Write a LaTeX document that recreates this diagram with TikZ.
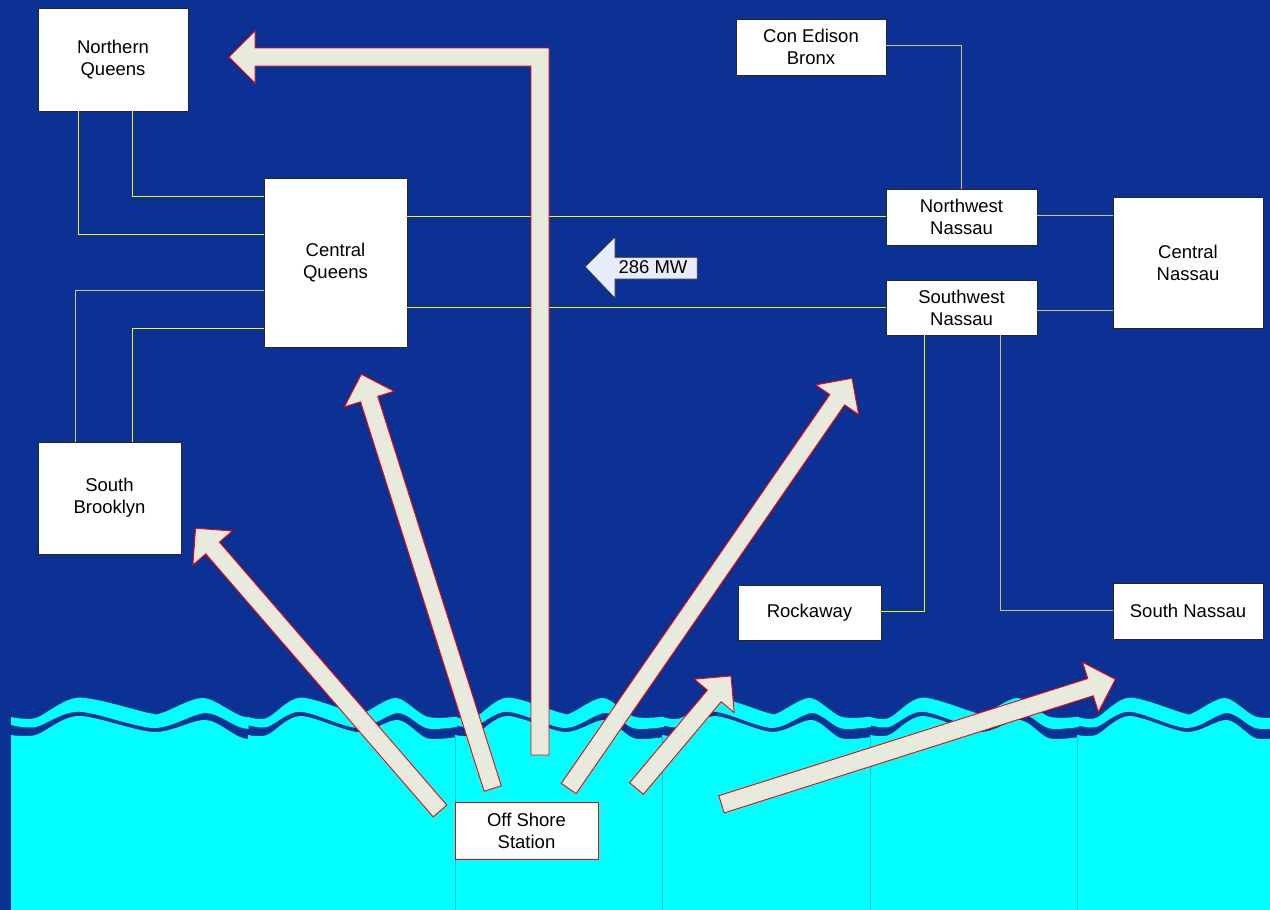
\documentclass[tikz,border=0pt]{standalone}
\usepackage{fontspec}
\setmainfont{Liberation Sans}
\usetikzlibrary{calc}
\definecolor{bg}{RGB}{12,49,148}
\definecolor{sea}{RGB}{0,255,255}
\definecolor{seamc}{RGB}{20,190,215}
\definecolor{arrfill}{RGB}{233,234,222}
\definecolor{lnY}{RGB}{245,245,0}
\definecolor{lnP}{RGB}{200,200,110}
\definecolor{mwfill}{RGB}{232,236,248}
\tikzset{
  box/.style={draw=black!85, fill=white, line width=0.8pt, inner sep=0pt, align=center,
    font=\fontsize{18.5}{22}\selectfont, text=black},
  bigarrow/.style={fill=arrfill, draw=red, line width=0.9pt, line join=miter},
  lineY/.style={draw=lnY, line width=1.5pt},
  lineP/.style={draw=lnP, line width=1.4pt},
  mwarrow/.style={fill=mwfill, draw=black!80, line width=0.8pt},
}
\newcommand\blockarr[2]{%
  \coordinate (bac) at ($(#2)!26pt!(#1)$);
  \filldraw[bigarrow] ($(#1)!9pt!90:(#2)$) -- ($(bac)!9pt!90:(#2)$) -- ($(bac)!26pt!90:(#2)$) -- (#2)
    -- ($(bac)!26pt!-90:(#2)$) -- ($(bac)!9pt!-90:(#2)$) -- ($(#1)!9pt!-90:(#2)$) -- cycle;}
\newcommand\wavetile{%
  \fill[sea] plot[smooth] coordinates {(0,717) (19,718) (52,697.7) (106,713) (116,713) (148,698) (179,716.7) (209,716.7)}
    -- plot[smooth] coordinates {(209,727) (179,728.3) (150,713) (110,728) (52,711.7) (19,727) (0,725)} -- cycle;
  \fill[sea] plot[smooth] coordinates {(0,735) (19,735) (52,716) (110,732) (150,720) (179,738.3) (209,737)}
    -- (209,910) -- (0,910) -- cycle;}
\begin{document}
\begin{tikzpicture}[x=1pt,y=-1pt]
\useasboundingbox (0,0) rectangle (1270,910);
\clip (0,0) rectangle (1270,910);
\fill[bg] (0,0) rectangle (1270,910);
% ocean
\begin{scope}
  \clip (11,600) rectangle (248.5,910);
  \begin{scope}[shift={(11,0)}, xscale=1.3]\wavetile\end{scope}
\end{scope}
\foreach \sx in {248,455,662,870,1077}{
  \begin{scope}[shift={(\sx,0)}]\wavetile\end{scope}}
\foreach \sx in {455.5,662.5,870.5,1077.5}{
  \draw[seamc, line width=0.7pt] (\sx,737) -- (\sx,910);}
% boxes
\node[box, minimum width=150pt, minimum height=103pt] (NQ) at (113,59.5) {Northern\\Queens};
\node[box, minimum width=143pt, minimum height=169pt] (CQ) at (335.5,262.5) {Central\\Queens};
\node[box, minimum width=143pt, minimum height=112pt] (SB) at (109.5,498) {South\\Brooklyn};
\node[box, minimum width=150pt, minimum height=56pt] (CE) at (811,47) {Con Edison\\Bronx};
\node[box, minimum width=151pt, minimum height=56pt] (NW) at (961.5,217) {Northwest\\Nassau};
\node[box, minimum width=151pt, minimum height=55pt] (SW) at (961.5,307.5) {Southwest\\Nassau};
\node[box, minimum width=150pt, minimum height=131pt] (CN) at (1188,262.5) {Central\\Nassau};
\node[box, minimum width=143pt, minimum height=55pt] (RO) at (809.5,612.5) {Rockaway};
\node[box, minimum width=150pt, minimum height=56pt] (SN) at (1188,611) {South Nassau};
\node[box, draw=red, minimum width=143pt, minimum height=57pt] (OS) at (526.5,830.5) {Off Shore\\Station};
% connectors
\draw[lineY] ([xshift=-34.5pt]NQ.south) |- ([yshift=28pt]CQ.west);
\draw[lineY] ([xshift=19.5pt]NQ.south) |- ([yshift=66pt]CQ.west);
\draw[lineP] ([xshift=-34pt]SB.north) |- ([yshift=-28pt]CQ.west);
\draw[lineY] ([xshift=23pt]SB.north) |- ([yshift=-66pt]CQ.west);
\draw[lineY] ([yshift=0.5pt]NW.west) -- ([yshift=0.5pt]NW.west -| CQ.east);
\draw[lineY] (SW.west) -- (SW.west -| CQ.east);
\draw[lineP] ([yshift=1.5pt]CE.east) -| (NW.north);
\draw[lineP] ([yshift=1.5pt]NW.east) -- ([yshift=1.5pt]NW.east -| CN.west);
\draw[lineP] ([yshift=-3pt]SW.east) -- ([yshift=-3pt]SW.east -| CN.west);
\draw[lineY] ([xshift=-37pt]SW.south) |- ([yshift=1pt]RO.east);
\draw[lineP] ([xshift=39pt]SW.south) |- ([yshift=0.5pt]SN.west);
% big arrows
\filldraw[bigarrow] (549,48) -- (255,48) -- (255,31) -- (229,57) -- (255,83) -- (255,66) -- (531,66) -- (531,755) -- (549,755) -- cycle;
\coordinate (a2t) at (440,811);   \coordinate (a2h) at (195.6,528.3);
\coordinate (a3t) at (492.7,788.5); \coordinate (a3h) at (361.3,374.3);
\coordinate (a4t) at (568.7,788.5); \coordinate (a4h) at (852,378.3);
\coordinate (a5t) at (636.5,788.5); \coordinate (a5h) at (731,676);
\coordinate (a6t) at (721.5,804.3); \coordinate (a6h) at (1115.3,679.3);
\blockarr{a2t}{a2h}
\blockarr{a3t}{a3h}
\blockarr{a4t}{a4h}
\blockarr{a5t}{a5h}
\blockarr{a6t}{a6h}
% 286 MW
\filldraw[mwarrow] (585,266.7) -- (615,236.7) -- (615,257.3) -- (697.3,257.3) -- (697.3,279) -- (615,279) -- (615,298.3) -- cycle;
\node[font=\fontsize{18.5}{22}\selectfont, text=black, inner sep=0pt] (MW) at (653,267.5) {286 MW};
\end{tikzpicture}
\end{document}
